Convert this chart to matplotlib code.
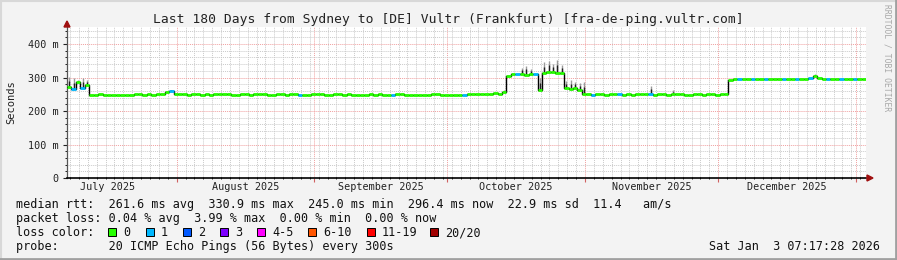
import datetime as dt
import matplotlib
matplotlib.use("Agg")
import matplotlib.pyplot as plt
import matplotlib.dates as mdates
from matplotlib.patches import Rectangle, Polygon
from matplotlib.lines import Line2D
from matplotlib.ticker import MultipleLocator, FuncFormatter

# time range of the graph (180 days)
start = dt.datetime(2025, 7, 7, 7, 17, 28)
end = dt.datetime(2026, 1, 3, 7, 17, 28)

# daily median rtt in ms
median_ms = [
    272, 266, 286, 268, 278,
    249, 249, 250, 249, 248, 247, 247, 248, 249, 249,
    250, 250, 249, 250, 249, 251, 252, 256, 261, 252,
    250, 250, 249, 250, 250, 249, 250, 249, 250, 250,
    251, 250, 249, 249, 250, 250, 249, 250, 251, 250,
    249, 249, 250, 250, 249, 250, 250, 249, 248, 249,
    250, 251, 250, 249, 249, 250, 250, 249, 250, 249,
    248, 248, 249, 250, 249, 250, 249, 248, 249, 250,
    250, 249, 249, 249, 248, 248, 249, 250, 250, 249,
    249, 248, 248, 249, 249, 250, 250, 251, 252, 250,
    252, 255, 251, 258, 306,
    310, 310, 311, 309, 311, 310,
    262,
    314, 318, 316, 315, 313,
    268, 266, 270, 262,
    251, 250, 249, 250, 250, 249, 250, 250, 251, 249,
    250, 249, 250, 250, 251, 250, 249, 250, 250, 249,
    250, 250, 251, 249, 249, 250, 250, 249, 250, 251, 249, 250, 250,
    294,
    296, 296, 297, 296, 296, 297, 296, 296, 296, 297,
    296, 296, 297, 296, 296, 297, 296, 298, 305, 299,
    296, 296, 297, 296, 296, 296, 297, 296, 296, 296,
]

# days (index) where the median is drawn in the "1 lost" colour
loss1_days = [1, 3, 23, 52, 73, 89, 101, 105, 118, 124, 131,
              151, 154, 157, 161, 164, 167, 171, 174, 177]

# smoke spikes: day index and top of the spike in ms
spike_days = [0, 1, 2, 3, 4, 23, 98, 102, 103, 104, 106, 107, 108, 109, 110,
              111, 112, 113, 114, 115, 116, 131, 136, 168]
spike_top = [302, 298, 294, 300, 292, 264, 262, 330, 336, 326, 300, 345, 350,
             340, 352, 338, 290, 292, 286, 284, 287, 274, 262, 310]

loss_labels = ["0", "1", "2", "3", "4-5", "6-10", "11-19", "20/20"]
loss_colors = ["#26ff00", "#00b8ff", "#0059ff", "#7e00ff", "#ff00ff",
               "#ff5500", "#ff0000", "#a10000"]

title = "Last 180 Days from Sydney to [DE] Vultr (Frankfurt) [fra-de-ping.vultr.com]"
row_rtt = "median rtt:  261.6 ms avg  330.9 ms max  245.0 ms min  296.4 ms now  22.9 ms sd  11.4   am/s"
row_loss = "packet loss: 0.04 % avg  3.99 % max  0.00 % min  0.00 % now"
row_probe = "probe:       20 ICMP Echo Pings (56 Bytes) every 300s"
stamp = "Sat Jan  3 07:17:28 2026"

W, H = 897, 260
MONO = "DejaVu Sans Mono"

fig = plt.figure(figsize=(W / 100, H / 100), dpi=100, facecolor="#f3f3f3")


def fx(px):
    return px / W


def fy(py):
    return 1 - py / H


# outer 3d-ish frame
fig.add_artist(Line2D([0, 1], [fy(1), fy(1)], color="#d8d8d8", lw=1.5))
fig.add_artist(Line2D([fx(1), fx(1)], [0, 1], color="#d8d8d8", lw=1.5))
fig.add_artist(Line2D([0, 1], [fy(258.5), fy(258.5)], color="#a0a0a0", lw=2))
fig.add_artist(Line2D([fx(895.5), fx(895.5)], [0, 1], color="#a0a0a0", lw=2))

ax = fig.add_axes([fx(67), fy(178), fx(866 - 67), (178 - 27) / H])
ax.set_facecolor("white")

t0 = mdates.date2num(start)
days = list(range(len(median_ms)))
x0 = [t0 + d for d in days]
x1 = [t0 + d + 1 for d in days]

# black step line gives the dark vertical connectors
ax.plot(x0 + [x1[-1]], median_ms + [median_ms[-1]], drawstyle="steps-post",
        color="#000000", lw=1.0, zorder=3)

# smoke
sx = [t0 + d + 0.5 for d in spike_days]
sb = [median_ms[d] for d in spike_days]
ax.vlines(sx, sb, spike_top, color="#9a9a9a", lw=1.0, zorder=2)
ax.vlines(sx, sb, [b + (t - b) * 0.6 for b, t in zip(sb, spike_top)],
          color="#202020", lw=1.0, zorder=2.5)

# median coloured by loss
cols = [loss_colors[1] if d in loss1_days else loss_colors[0] for d in days]
ax.hlines(median_ms, x0, x1, colors=cols, lw=2.0, zorder=4)

ax.set_xlim(mdates.date2num(start), mdates.date2num(end))
ax.set_ylim(0, 451)

# grid
ax.yaxis.set_major_locator(MultipleLocator(100))
ax.yaxis.set_minor_locator(MultipleLocator(20))
ax.xaxis.set_major_locator(mdates.MonthLocator())
ax.xaxis.set_minor_locator(mdates.DayLocator(interval=2))
ax.grid(which="minor", color="#cacaca", lw=0.7, ls=(0, (1, 1)))
ax.grid(which="major", color="#f0a0a0", lw=0.7, ls=(0, (1, 1)))
ax.set_axisbelow(True)

ax.yaxis.set_major_formatter(FuncFormatter(lambda v, p: "0" if v == 0 else f"{int(v)} m"))
ax.xaxis.set_major_formatter(FuncFormatter(lambda v, p: ""))
ax.tick_params(axis="y", which="major", length=3, width=0.8, direction="out",
               labelsize=7.3, pad=3, colors="#222222")
ax.tick_params(axis="y", which="minor", length=1.5, width=0.6, direction="out")
ax.tick_params(axis="x", which="major", length=3, width=0.8, direction="out",
               color="#d06060")
ax.tick_params(axis="x", which="minor", length=1.5, width=0.6, direction="inout")
for lab in ax.get_yticklabels():
    lab.set_family(MONO)

for s in ["top", "right"]:
    ax.spines[s].set_visible(False)
ax.spines["left"].set_color("#555555")
ax.spines["bottom"].set_color("#000000")
ax.spines["left"].set_linewidth(0.9)
ax.spines["bottom"].set_linewidth(1.2)
ax.spines["left"].set_bounds(0, 460)

# axis arrows
fig.add_artist(Polygon([[fx(64), fy(27)], [fx(70), fy(27)], [fx(67), fy(21)]],
                       closed=True, color="#a01010"))
fig.add_artist(Polygon([[fx(867), fy(175)], [fx(867), fy(181)], [fx(873), fy(178)]],
                       closed=True, color="#a01010"))

# month labels centred in each month
months = [dt.datetime(2025, m, 1) for m in range(7, 13)] + [dt.datetime(2026, 1, 1)]
for a, b in zip(months[:-1], months[1:]):
    mid = mdates.date2num(a) + (mdates.date2num(b) - mdates.date2num(a)) / 2
    ax.text(mid, -0.06, a.strftime("%B %Y"), transform=ax.get_xaxis_transform(),
            ha="center", va="center", family=MONO, fontsize=7.3, color="#222222")

fig.text(0.5, fy(19), title, ha="center", va="center", family=MONO,
         fontsize=9.4, color="#222222")
fig.text(fx(11), fy(102.5), "Seconds", rotation=90, ha="center", va="center",
         family=MONO, fontsize=7.5, color="#222222")
fig.text(fx(887), fy(58), "RRDTOOL / TOBI OETIKER", rotation=270, ha="center",
         va="center", family=MONO, fontsize=5.8, color="#a8a8a8")

# legend rows
fig.text(fx(16), fy(204.5), row_rtt, va="center", family=MONO, fontsize=8.5, color="#111111")
fig.text(fx(16), fy(218.5), row_loss, va="center", family=MONO, fontsize=8.5, color="#111111")
fig.text(fx(16), fy(232.5), "loss color:", va="center", family=MONO, fontsize=8.5, color="#111111")
box_x = [108, 145.5, 182.5, 219.5, 256.5, 307.5, 366.5, 429.5]
for bx, lab, c in zip(box_x, loss_labels, loss_colors):
    fig.add_artist(Rectangle((fx(bx), fy(236)), fx(8), 8 / H, facecolor=c,
                             edgecolor="black", lw=0.7))
    fig.text(fx(bx + 15.5), fy(232.5), lab, va="center", family=MONO,
             fontsize=8.5, color="#111111")
fig.text(fx(16), fy(246.5), row_probe, va="center", family=MONO, fontsize=8.5, color="#111111")
fig.text(fx(880), fy(246.5), stamp, ha="right", va="center", family=MONO,
         fontsize=8.5, color="#111111")

fig.savefig("out.png", dpi=100, facecolor=fig.get_facecolor())
